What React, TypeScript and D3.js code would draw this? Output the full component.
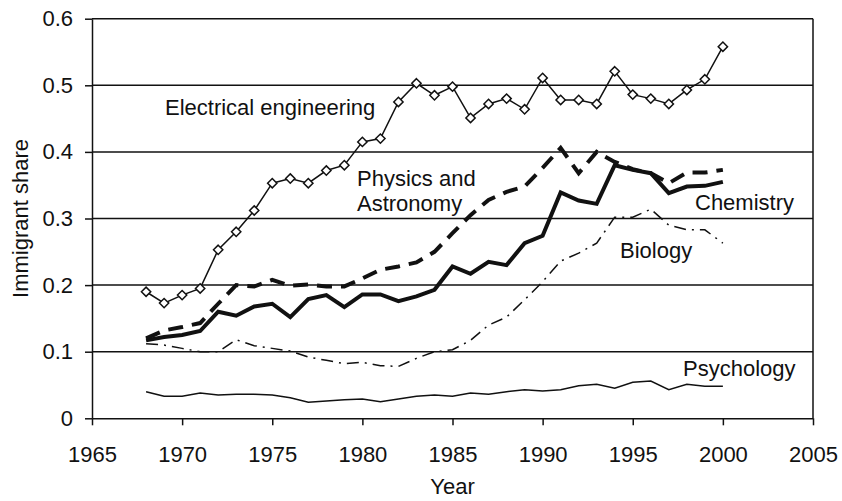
import { useEffect, useRef } from "react";
import * as d3 from "d3";

const years = [
  1968, 1969, 1970, 1971, 1972, 1973, 1974, 1975, 1976, 1977, 1978, 1979, 1980,
  1981, 1982, 1983, 1984, 1985, 1986, 1987, 1988, 1989, 1990, 1991, 1992, 1993,
  1994, 1995, 1996, 1997, 1998, 1999, 2000,
];

const electrical = [
  0.19, 0.173, 0.185, 0.195, 0.253, 0.28, 0.312, 0.353, 0.36, 0.353, 0.372, 0.38,
  0.415, 0.42, 0.475, 0.503, 0.485, 0.498, 0.451, 0.472, 0.48, 0.464, 0.511, 0.478,
  0.478, 0.472, 0.521, 0.486, 0.48, 0.472, 0.493, 0.509, 0.558,
];

const physics = [
  0.12, 0.132, 0.137, 0.143, 0.172, 0.2, 0.198, 0.208, 0.199, 0.201, 0.198, 0.198,
  0.21, 0.223, 0.228, 0.234, 0.25, 0.278, 0.305, 0.328, 0.34, 0.348, 0.376, 0.406,
  0.368, 0.4, 0.385, 0.374, 0.368, 0.353, 0.369, 0.369, 0.373,
];

const chemistry = [
  0.117, 0.122, 0.125, 0.131, 0.16, 0.154, 0.168, 0.172, 0.152, 0.179, 0.185, 0.167,
  0.186, 0.186, 0.176, 0.183, 0.193, 0.228, 0.217, 0.235, 0.23, 0.263, 0.274, 0.339,
  0.327, 0.322, 0.38, 0.373, 0.368, 0.338, 0.348, 0.349, 0.355,
];

const biology = [
  0.112, 0.11, 0.105, 0.1, 0.1, 0.118, 0.109, 0.105, 0.101, 0.092, 0.087, 0.082,
  0.084, 0.079, 0.078, 0.09, 0.1, 0.103, 0.117, 0.14, 0.152, 0.178, 0.205, 0.236,
  0.248, 0.263, 0.302, 0.302, 0.314, 0.29, 0.283, 0.283, 0.263,
];

const psychology = [
  0.04, 0.033, 0.033, 0.038, 0.035, 0.036, 0.036, 0.035, 0.031, 0.024, 0.026, 0.028,
  0.029, 0.025, 0.029, 0.033, 0.035, 0.033, 0.038, 0.036, 0.04, 0.043, 0.041, 0.043,
  0.049, 0.051, 0.045, 0.054, 0.056, 0.043, 0.051, 0.048, 0.048,
];

const xTicks = [1965, 1970, 1975, 1980, 1985, 1990, 1995, 2000, 2005];
const yTicks = [0, 0.1, 0.2, 0.3, 0.4, 0.5, 0.6];
const yTickLabels = ["0", "0.1", "0.2", "0.3", "0.4", "0.5", "0.6"];

const FONT = "'Liberation Sans', Arial, Helvetica, sans-serif";

export default function App() {
  const svgRef = useRef<SVGSVGElement | null>(null);

  useEffect(() => {
    const width = 842;
    const height = 501;

    const svg = d3.select(svgRef.current).attr("width", width).attr("height", height);
    svg.selectAll("*").remove();

    const x = d3.scaleLinear().domain([1965, 2005]).range([92, 813]);
    const y = d3.scaleLinear().domain([0, 0.6]).range([418.3, 18.7]);

    // gridlines + frame
    svg
      .append("g")
      .selectAll("line")
      .data(yTicks.slice(1))
      .join("line")
      .attr("x1", x(1965))
      .attr("x2", x(2005))
      .attr("y1", (d) => y(d))
      .attr("y2", (d) => y(d))
      .attr("stroke", "#111")
      .attr("stroke-width", 1.5);

    svg
      .append("line")
      .attr("x1", x(2005))
      .attr("x2", x(2005))
      .attr("y1", y(0.6))
      .attr("y2", y(0))
      .attr("stroke", "#111")
      .attr("stroke-width", 1.5);

    // axes
    const xAxis = svg
      .append("g")
      .attr("transform", `translate(0,${y(0)})`)
      .call(d3.axisBottom(x).tickValues(xTicks).tickFormat(d3.format("d")).tickSize(7).tickSizeOuter(0).tickPadding(21));
    const yAxis = svg
      .append("g")
      .attr("transform", `translate(${x(1965)},0)`)
      .call(
        d3
          .axisLeft(y)
          .tickValues(yTicks)
          .tickFormat((_, i) => yTickLabels[i])
          .tickSize(7)
          .tickSizeOuter(0)
          .tickPadding(12)
      );
    [xAxis, yAxis].forEach((g) => {
      g.select(".domain").attr("stroke", "#111").attr("stroke-width", 1.5);
      g.selectAll(".tick line").attr("stroke", "#111").attr("stroke-width", 1.5);
      g.selectAll(".tick text").attr("font-family", FONT).attr("font-size", 22).attr("fill", "#111");
    });

    const line = (vals: number[]) =>
      d3
        .line<number>()
        .x((_, i) => x(years[i]))
        .y((d) => y(d))(vals);

    const plot = svg.append("g").attr("fill", "none").attr("stroke", "#111");

    plot.append("path").attr("d", line(psychology)).attr("stroke-width", 1.5);
    plot
      .append("path")
      .attr("d", line(biology))
      .attr("stroke-width", 1.5)
      .attr("stroke-dasharray", "12,6,2,6");
    plot.append("path").attr("d", line(chemistry)).attr("stroke-width", 4);
    plot
      .append("path")
      .attr("d", line(physics))
      .attr("stroke-width", 4)
      .attr("stroke-dasharray", "15,9");
    plot.append("path").attr("d", line(electrical)).attr("stroke-width", 1.5);

    const diamond = d3.symbol().type(d3.symbolDiamond2).size(55);
    svg
      .append("g")
      .selectAll("path")
      .data(electrical)
      .join("path")
      .attr("transform", (d, i) => `translate(${x(years[i])},${y(d)})`)
      .attr("d", diamond)
      .attr("fill", "#fff")
      .attr("stroke", "#111")
      .attr("stroke-width", 1.5);

    // series labels
    const labels = [
      { t: "Electrical engineering", x: 165, y: 115 },
      { t: "Physics and", x: 357, y: 186 },
      { t: "Astronomy", x: 357, y: 211 },
      { t: "Chemistry", x: 695, y: 210 },
      { t: "Biology", x: 620, y: 258 },
      { t: "Psychology", x: 683, y: 376 },
    ];
    svg
      .append("g")
      .selectAll("text")
      .data(labels)
      .join("text")
      .attr("x", (d) => d.x)
      .attr("y", (d) => d.y)
      .text((d) => d.t)
      .attr("font-family", FONT)
      .attr("font-size", 22)
      .attr("fill", "#111");

    svg
      .append("text")
      .attr("x", (x(1965) + x(2005)) / 2)
      .attr("y", 494)
      .attr("text-anchor", "middle")
      .attr("font-family", FONT)
      .attr("font-size", 22)
      .attr("fill", "#111")
      .text("Year");

    svg
      .append("text")
      .attr("transform", `translate(28,${(y(0) + y(0.6)) / 2}) rotate(-90)`)
      .attr("text-anchor", "middle")
      .attr("font-family", FONT)
      .attr("font-size", 22)
      .attr("fill", "#111")
      .text("Immigrant share");
  }, []);

  return (
    <svg
      ref={svgRef}
      style={{ position: "absolute", left: 0, top: 0, background: "#fff", display: "block" }}
    ></svg>
  );
}
